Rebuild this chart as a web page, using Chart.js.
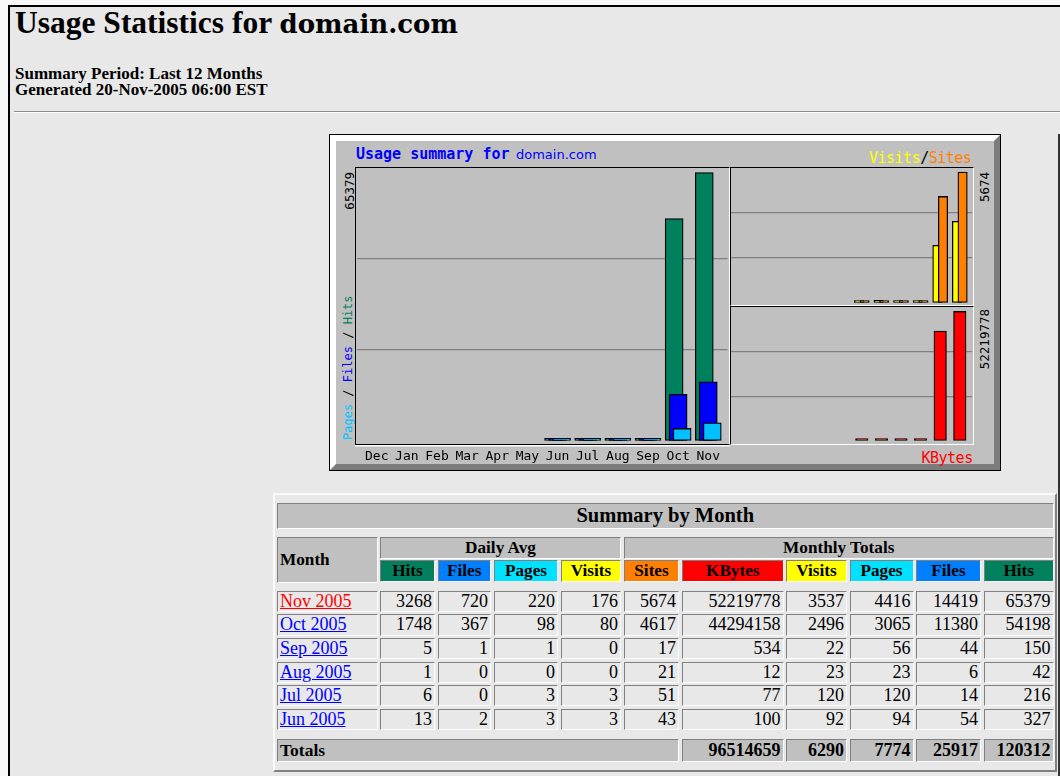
<!DOCTYPE html>
<html><head><meta charset="utf-8">
<script src="https://cdn.jsdelivr.net/npm/chart.js@4/dist/chart.umd.min.js"></script>
<style>
html,body{margin:0;padding:0;}
body{width:1060px;height:776px;overflow:hidden;position:relative;background:#f8f8f8;font-family:"Liberation Serif","Times New Roman",serif;color:#000;}
.abs{position:absolute;white-space:nowrap;}
#page{position:absolute;left:8px;top:5px;width:1060px;height:780px;box-sizing:border-box;border-left:2px solid #000;border-top:2px solid #000;background:#e8e8e8;}
.vt{position:absolute;writing-mode:vertical-rl;transform:rotate(180deg);font-family:"DejaVu Sans Mono",monospace;white-space:nowrap;line-height:1;}
.cell{position:absolute;box-sizing:border-box;border-style:solid;border-width:1px;border-color:#808080 #fdfdfd #fdfdfd #808080;display:flex;align-items:center;white-space:nowrap;overflow:hidden;font-size:18px;}
.num{justify-content:flex-end;padding-right:2px;}
.hd{justify-content:center;font-weight:bold;font-size:17.2px;background:#c0c0c0;}
.lnk{padding-left:2px;text-decoration:underline;}
canvas{position:absolute;}
</style></head>
<body>
<div id="page"></div>
<div class="abs" style="left:1058px;top:134px;width:2px;height:642px;background:#333;"></div>

<div class="abs" style="left:15px;top:6.6px;font:bold 31.5px/1 'Liberation Serif';">Usage Statistics for <span style="font-family:'DejaVu Serif';font-size:26px;">domain.com</span></div>
<div class="abs" style="left:15px;top:66px;font:bold 17px/16px 'Liberation Serif';">Summary Period: Last 12 Months<br>Generated 20-Nov-2005 06:00 EST</div>
<div class="abs" style="left:14px;top:111px;width:1046px;height:0;border-top:1px solid #8c8c8c;border-bottom:1px solid #fff;"></div>

<!-- chart frame -->
<div class="abs" style="left:329px;top:134px;width:672px;height:337px;box-sizing:border-box;border:1px solid #000;">
  <div style="position:absolute;left:0;top:0;right:0;bottom:0;border-style:solid;border-width:6px;border-color:#fff #7c7c7c #7c7c7c #fff;background:#c0c0c0;"></div>
</div>
<!-- panels -->
<div class="abs" style="left:355px;top:166.5px;width:374.5px;height:278px;box-sizing:border-box;border-style:solid;border-width:1.5px;border-color:#000 #fff #000 #000;box-shadow:0 1.5px 0 #fff;"></div>
<div class="abs" style="left:729.5px;top:166.5px;width:244.5px;height:139.5px;box-sizing:border-box;border-style:solid;border-width:1.5px;border-color:#000 #fff #fff #000;"></div>
<div class="abs" style="left:729.5px;top:305.8px;width:244.5px;height:139.5px;box-sizing:border-box;border-style:solid;border-width:1.5px;border-color:#000 #fff #fff #000;"></div>

<!-- chart texts -->
<div class="abs" style="left:356px;top:146.6px;font:bold 15px/1 'DejaVu Sans Mono';color:#0000ff;">Usage summary for</div>
<div class="abs" style="left:516px;top:148.3px;font:13px/1 'DejaVu Sans';color:#0000ff;">domain.com</div>
<div class="abs" style="left:869px;top:150.6px;font:15px/1 'DejaVu Sans Mono';letter-spacing:-0.5px;"><span style="color:#ffff00">Visits</span><span style="color:#000">/</span><span style="color:#ff8000">Sites</span></div>
<div class="abs" style="left:921.5px;top:450.6px;font:15px/1 'DejaVu Sans Mono';letter-spacing:-0.5px;color:#ff0000;">KBytes</div>
<div id="maxL" class="vt" style="left:343.5px;top:172px;font-size:12.5px;color:#000;"></div>
<div id="maxRT" class="vt" style="left:978.5px;top:171.7px;font-size:12.5px;color:#000;"></div>
<div id="maxRB" class="vt" style="left:978.5px;top:308.5px;font-size:12.5px;color:#000;"></div>
<div class="vt" style="left:342px;top:296px;height:144px;font-size:12px;"><span style="color:#00c0ff">Pages</span> <span style="color:#000">/</span> <span style="color:#0000ff">Files</span> <span style="color:#000">/</span> <span style="color:#00805c">Hits</span></div>

<canvas id="cL" width="371" height="302" style="left:357px;top:168px;"></canvas>
<canvas id="cRT" width="241" height="135" style="left:731px;top:168px;"></canvas>
<canvas id="cRB" width="241" height="134" style="left:731px;top:307.3px;"></canvas>

<!-- table -->
<div class="abs" style="left:272.7px;top:492.7px;width:784.8px;height:279px;box-sizing:border-box;border-style:solid;border-width:2px;border-color:#fafafa #808080 #808080 #fafafa;"></div>
<div id="tbl"></div>

<script>
// ---- data ----
const months = ['Dec','Jan','Feb','Mar','Apr','May','Jun','Jul','Aug','Sep','Oct','Nov'];
const hits   = [null,null,null,null,null,null,327,216,42,150,54198,65379];
const files  = [null,null,null,null,null,null,54,14,6,44,11380,14419];
const pages  = [null,null,null,null,null,null,94,120,23,56,3065,4416];
const visits = [null,null,null,null,null,null,92,120,23,22,2496,3537];
const sites  = [null,null,null,null,null,null,43,51,21,17,4617,5674];
const kbytes = [null,null,null,null,null,null,100,77,12,534,44294158,52219778];

const tableMonths = ['Nov 2005','Oct 2005','Sep 2005','Aug 2005','Jul 2005','Jun 2005'];
const dailyHits   = [3268,1748,5,1,6,13];
const dailyFiles  = [720,367,1,0,0,2];
const dailyPages  = [220,98,1,0,3,3];
const dailyVisits = [176,80,0,0,3,3];
const totalsRow   = [96514659,6290,7774,25917,120312]; // KBytes, Visits, Pages, Files, Hits

// ---- scale tops (slightly above the data maxima, as in the picture) ----
const leftTop = 66500, visitsSitesTop = 5850, kbytesTop = 54000000;

// ---- helpers ----
const nums = a => a.filter(v => v != null);
const pts = (arr, off) => arr.map((v,i) => v == null ? null : {x: i + off, y: v}).filter(p => p);

document.getElementById('maxL').textContent = Math.max(...nums(hits));
document.getElementById('maxRT').textContent = Math.max(...nums(sites), ...nums(visits));
document.getElementById('maxRB').textContent = Math.max(...nums(kbytes));

function yScale(top){
  return {
    min: 0, max: top, display: true,
    ticks: {display: false},
    border: {display: false},
    grid: {drawTicks: false, lineWidth: 1.3, color: c => (c.index === 1 || c.index === 2) ? '#808080' : 'rgba(0,0,0,0)'},
    afterBuildTicks: s => { s.ticks = [0,1,2,3].map(k => ({value: top * k / 3})); }
  };
}
const common = {
  animation: false, responsive: false, events: [],
  layout: {padding: 0},
  plugins: {legend: {display: false}, tooltip: {enabled: false}}
};
const barStyle = {borderColor: '#000', borderWidth: 1.3, borderSkipped: false, grouped: false, minBarLength: 2.6};

// left panel: Hits / Files / Pages  (slot = 30.2 px)
const lMin = -0.6457, lMax = lMin + 371 / 30.2, lOff = 4 / 30.2;
new Chart(document.getElementById('cL'), {
  type: 'bar',
  data: {datasets: [
    Object.assign({label:'Hits',  data: pts(hits,  -lOff), backgroundColor:'#00805c', barThickness:18, order:3}, barStyle),
    Object.assign({label:'Files', data: pts(files,  0),    backgroundColor:'#0000ff', barThickness:18, order:2}, barStyle),
    Object.assign({label:'Pages', data: pts(pages,  lOff), backgroundColor:'#00c0ff', barThickness:18, order:1}, barStyle)
  ]},
  options: Object.assign({}, common, {
    scales: {
      x: {type:'linear', min:lMin, max:lMax, offset:false,
          afterBuildTicks: s => { s.ticks = months.map((m,i) => ({value:i})); },
          afterFit: s => { s.height = 29; },
          ticks: {callback: (v,i) => months[i], autoSkip:false, maxRotation:0, padding:8, color:'#000',
                  font:{family:'DejaVu Sans Mono', size:13}},
          grid: {display:false, drawTicks:false}, border:{display:false}},
      y: yScale(leftTop)
    }
  })
});

// right top: Visits / Sites (slot = 19.6 px)
const rMin = -0.6735, rMax = rMin + 241 / 19.6, rOff = 2.8 / 19.6;
const hiddenX = {type:'linear', min:rMin, max:rMax, offset:false, display:false};
new Chart(document.getElementById('cRT'), {
  type: 'bar',
  data: {datasets: [
    Object.assign({label:'Visits', data: pts(visits, -rOff), backgroundColor:'#ffff00', barThickness:9.4, order:2}, barStyle, {minBarLength:2.4}),
    Object.assign({label:'Sites',  data: pts(sites,   rOff), backgroundColor:'#ff8000', barThickness:9.4, order:1}, barStyle, {minBarLength:2.4})
  ]},
  options: Object.assign({}, common, {scales: {x: hiddenX, y: yScale(visitsSitesTop)}})
});

// right bottom: KBytes
new Chart(document.getElementById('cRB'), {
  type: 'bar',
  data: {datasets: [
    Object.assign({label:'KBytes', data: pts(kbytes, 0), backgroundColor:'#ff0000', barThickness:12.5}, barStyle, {minBarLength:2.4})
  ]},
  options: Object.assign({}, common, {scales: {x: hiddenX, y: yScale(kbytesTop)}})
});

// ---- table ----
const colX = [[277,100.5],[380,55],[437.5,53.5],[494,64],[561,60],[624,55],[682,101.5],[786,61],[849.5,64],[916,65],[984,69.5]];
const hdrNames  = ['Hits','Files','Pages','Visits','Sites','KBytes','Visits','Pages','Files','Hits'];
const hdrColors = ['#00805c','#0080ff','#00e0ff','#ffff00','#ff8000','#ff0000','#ffff00','#00e0ff','#0080ff','#00805c'];
const tbl = document.getElementById('tbl');
function cell(x, y, w, h, cls, html, style){
  const d = document.createElement('div');
  d.className = 'cell ' + cls;
  d.style.left = x + 'px'; d.style.top = y + 'px'; d.style.width = w + 'px'; d.style.height = h + 'px';
  if (style) d.style.cssText += style;
  d.innerHTML = html;
  tbl.appendChild(d);
}
cell(277, 503, 776.5, 25.5, 'hd', 'Summary by Month', 'font-size:20.5px;');
cell(277, 537, 100.5, 45.5, 'hd', 'Month', 'justify-content:flex-start;padding-left:2px;');
cell(380, 537, 241, 22.3, 'hd', 'Daily Avg');
cell(624, 537, 429.5, 22.3, 'hd', 'Monthly Totals');
hdrNames.forEach((n, k) => {
  const [x, w] = colX[k + 1];
  cell(x, 560.2, w, 22.3, 'hd', n, 'background:' + hdrColors[k] + ';');
});
tableMonths.forEach((m, r) => {
  const y = 590.8 + r * 23.6, h = 21.2;
  const mi = months.length - 1 - r;
  const vals = [dailyHits[r], dailyFiles[r], dailyPages[r], dailyVisits[r],
                sites[mi], kbytes[mi], visits[mi], pages[mi], files[mi], hits[mi]];
  cell(colX[0][0], y, colX[0][1], h, 'lnk', m, 'color:' + (r === 0 ? '#ff0000' : '#0000ff') + ';');
  vals.forEach((v, k) => { const [x, w] = colX[k + 1]; cell(x, y, w, h, 'num', String(v)); });
});
cell(277, 739.3, 402, 22.4, 'hd', 'Totals', 'justify-content:flex-start;padding-left:2px;font-size:17.5px;');
totalsRow.forEach((v, k) => {
  const [x, w] = colX[k + 6];
  cell(x, 739.3, w, 22.4, 'num', String(v), 'background:#c0c0c0;font-weight:bold;');
});
</script>
</body></html>
